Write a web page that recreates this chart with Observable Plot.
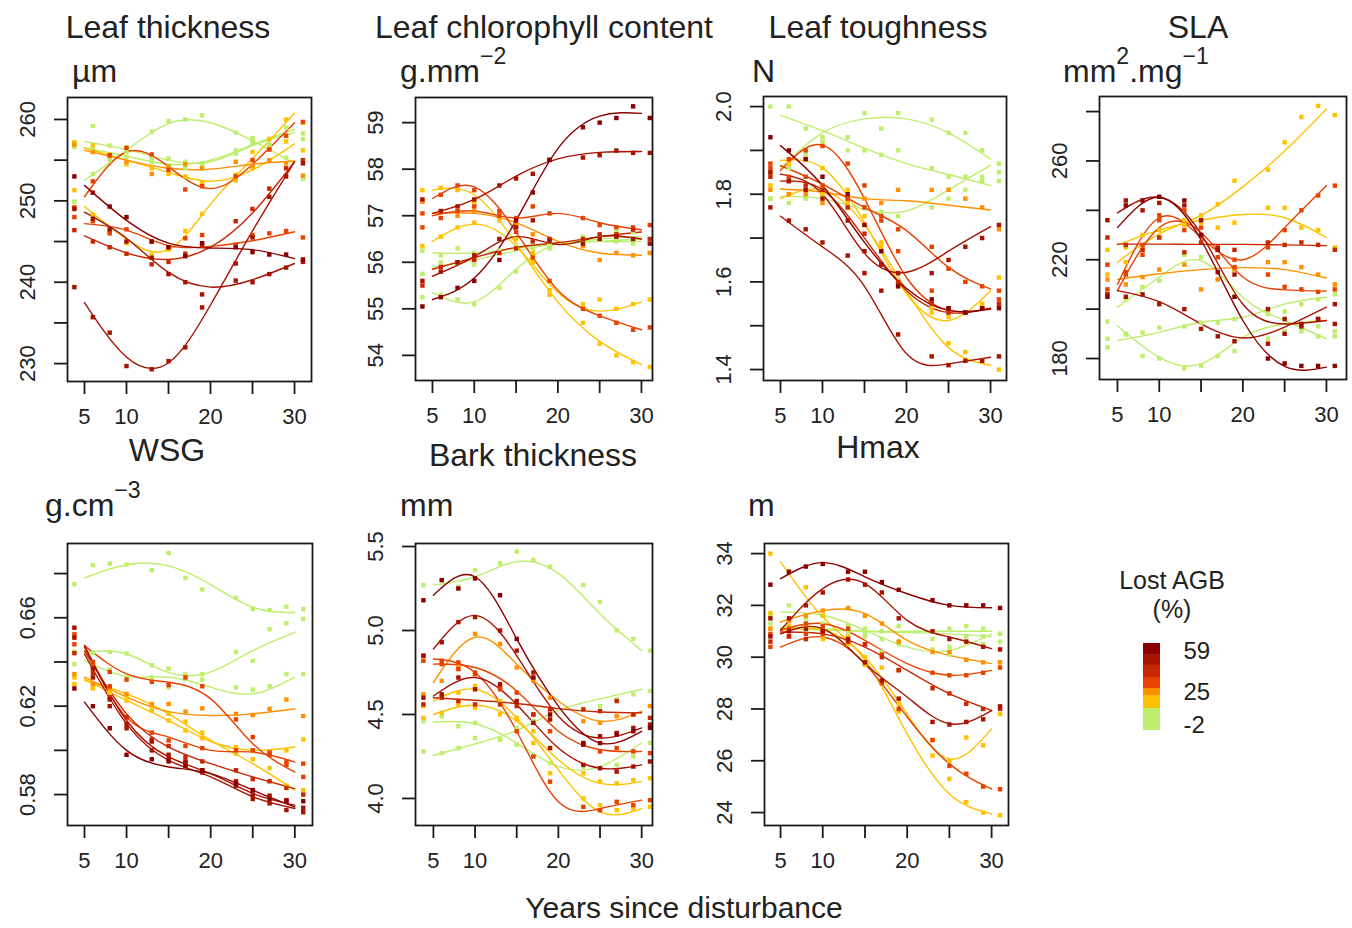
<!DOCTYPE html>
<html><head><meta charset="utf-8">
<script src="https://cdn.jsdelivr.net/npm/d3@7"></script>
<script src="https://cdn.jsdelivr.net/npm/@observablehq/plot@0.6"></script>
<style>
body{margin:0;background:#fff;}
#root{position:relative;width:1352px;height:928px;overflow:hidden;font-family:"Liberation Sans",Arial,sans-serif;color:#222;background:#fff;}
.lbl{position:absolute;font-size:32px;line-height:1;white-space:nowrap;}
.c{transform:translateX(-50%);}
.sup{font-size:0.72em;position:relative;top:-0.8em;}
.leg{position:absolute;font-size:25px;line-height:1;white-space:nowrap;transform:translateX(-50%);}
</style></head><body><div id="root">
<div class="lbl c" style="left:168px;top:11px">Leaf thickness</div>
<div class="lbl c" style="left:544px;top:11px">Leaf chlorophyll content</div>
<div class="lbl c" style="left:878px;top:11px">Leaf toughness</div>
<div class="lbl c" style="left:1198px;top:11px">SLA</div>
<div class="lbl" style="left:72px;top:55px">µm</div>
<div class="lbl" style="left:400px;top:55px">g.mm<span class="sup">−2</span></div>
<div class="lbl" style="left:752px;top:55px">N</div>
<div class="lbl" style="left:1063px;top:55px">mm<span class="sup">2</span>.mg<span class="sup">−1</span></div>
<div class="lbl c" style="left:167px;top:434px">WSG</div>
<div class="lbl c" style="left:533px;top:439px">Bark thickness</div>
<div class="lbl c" style="left:878px;top:431px">Hmax</div>
<div class="lbl" style="left:45px;top:489px">g.cm<span class="sup">−3</span></div>
<div class="lbl" style="left:400px;top:489px">mm</div>
<div class="lbl" style="left:748px;top:489px">m</div>
<div class="lbl c" style="left:684px;top:893px;font-size:30px">Years since disturbance</div>
<div class="leg" style="left:1172px;top:568px">Lost AGB</div>
<div class="leg" style="left:1172px;top:597px">(%)</div>
</div>
<script>
// ---------- shared data ----------
const fitYears = [5, 10, 15, 20, 25, 30];
const pointYears = [3.8, 6, 8, 10, 13, 15, 17, 19, 23, 25, 27, 29, 31];
const lostAGB = [-2, 0, 1, 15, 20, 25, 31, 35, 42, 50, 54, 59];
const agbBreaks = [12, 22.7, 28.5, 37.6, 47.5, 56.5];
const agbColors = ["#bdee6c", "#ffc200", "#ff9000", "#e84200", "#c82800", "#a81200", "#8b0000"];
const legendLow = [-6.1, 12, 22.7, 28.5, 37.6, 47.5, 56.5];
const legendHigh = [12, 22.7, 28.5, 37.6, 47.5, 56.5, 65.6];
const legendLabels = [59, 25, -2];
const xTicks = [5, 10, 15, 20, 25, 30];
const xLabels = [5, 10, 20, 30];

// ---------- Leaf thickness (µm) ----------
const thicknessTicks = [230, 235, 240, 245, 250, 255, 260];
const thicknessLabels = [230, 240, 250, 260];
const thicknessFit = [
  [252.5, 256.2, 259.5, 259.6, 257.4, 254.6],
  [257.3, 256.3, 255.0, 254.8, 256.8, 258.4],
  [256.5, 255.5, 254.5, 255.0, 256.9, 258.8],
  [249.3, 245.3, 244.0, 249.6, 255.2, 260.8],
  [256.5, 255.0, 253.5, 252.4, 253.8, 257.0],
  [256.2, 255.0, 254.0, 253.9, 254.5, 254.9],
  [250.5, 256.0, 254.2, 251.5, 254.5, 259.6],
  [247.2, 246.4, 244.5, 244.4, 245.1, 246.2],
  [245.7, 243.6, 242.8, 244.3, 248.5, 254.8],
  [248.6, 245.4, 241.2, 239.4, 240.3, 242.3],
  [237.5, 230.8, 230.1, 237.2, 246.3, 254.8],
  [251.9, 247.6, 244.8, 244.2, 244.0, 242.9]
];
const thicknessPts = [
  [249.9, 253.3, 255.0, 256.6, 258.5, 259.8, 260.0, 260.5, 258.4, 257.7, 256.5, 255.3, 252.7],
  [257.0, 259.2, 256.8, 256.0, 255.2, 254.2, 254.8, 254.6, 255.8, 257.2, 257.6, 258.0, 258.3],
  [256.6, 256.3, 255.6, 255.4, 254.8, 255.2, 254.0, 254.5, 256.2, 257.5, 257.0, 259.0, 257.6],
  [251.3, 248.3, 246.2, 244.8, 243.4, 244.0, 246.3, 248.4, 252.5, 256.0, 257.6, 260.0, 259.6],
  [257.2, 256.8, 255.7, 254.5, 254.0, 253.3, 253.0, 252.2, 253.2, 254.0, 256.4, 257.3, 256.2],
  [256.9, 256.0, 255.5, 254.8, 253.3, 254.2, 254.5, 254.0, 254.8, 254.3, 255.0, 254.6, 253.1],
  [249.2, 252.4, 255.6, 256.5, 255.7, 253.8, 251.4, 251.8, 253.0, 255.0, 256.3, 258.0, 259.7],
  [248.0, 247.5, 246.0, 246.5, 245.0, 244.3, 245.4, 245.8, 244.6, 245.8, 246.0, 246.3, 245.5],
  [246.4, 245.0, 244.3, 243.5, 242.2, 242.5, 243.5, 244.5, 247.5, 249.0, 251.5, 254.0, 255.0],
  [249.0, 247.8, 246.5, 245.0, 243.0, 241.0, 240.0, 238.5, 240.2, 240.0, 241.0, 241.8, 242.5],
  [239.4, 235.7, 233.8, 229.7, 229.3, 230.3, 232.0, 236.9, 242.3, 245.5, 250.5, 253.0, 254.6],
  [253.0, 251.0, 249.3, 248.0, 245.0, 244.3, 243.2, 244.8, 244.3, 243.7, 243.4, 243.4, 242.8]
];

// ---------- Leaf chlorophyll content (g.mm-2) ----------
const chlorophyllTicks = [54, 55, 56, 57, 58, 59];
const chlorophyllLabels = [54, 55, 56, 57, 58, 59];
const chlorophyllFit = [
  [56.2, 56.2, 56.3, 56.4, 56.45, 56.5],
  [55.35, 55.15, 55.85, 56.4, 56.45, 56.45],
  [55.9, 56.05, 56.25, 56.4, 56.5, 56.55],
  [57.55, 57.45, 56.4, 55.15, 54.3, 53.8],
  [56.45, 56.82, 56.35, 55.35, 54.95, 55.15],
  [57.05, 57.05, 56.85, 56.45, 56.2, 56.15],
  [57.37, 57.62, 56.65, 55.4, 54.85, 54.55],
  [57.0, 57.1, 56.95, 57.05, 56.85, 56.7],
  [55.85, 56.1, 56.32, 56.42, 56.55, 56.65],
  [55.7, 56.12, 56.55, 56.38, 56.55, 56.5],
  [57.05, 57.35, 57.85, 58.22, 58.36, 58.38],
  [55.2, 55.66, 56.9, 58.44, 59.14, 59.2]
];
const chlorophyllPts = [
  [56.25, 56.15, 56.3, 56.2, 56.25, 56.35, 56.3, 56.4, 56.45, 56.5, 56.65, 56.5, 56.5],
  [55.25, 55.3, 55.2, 55.1, 55.45, 55.8, 56.05, 56.3, 56.4, 56.5, 56.45, 56.4, 56.2],
  [55.75, 56.0, 56.0, 55.95, 56.2, 56.3, 56.45, 56.35, 56.55, 56.6, 56.5, 56.65, 56.45],
  [57.55, 57.6, 57.55, 57.3, 56.9, 56.5, 56.0, 55.3, 54.7, 54.25, 54.0, 53.85, 53.75],
  [56.35, 56.55, 56.75, 56.85, 56.5, 56.3, 56.2, 55.4, 55.1, 55.2, 55.0, 55.1, 55.2],
  [57.3, 57.1, 57.0, 57.1, 57.0, 56.8, 56.6, 56.5, 56.35, 56.05, 56.2, 56.15, 56.2],
  [56.75, 57.45, 57.65, 57.55, 57.1, 56.65, 56.1, 55.6, 55.0, 54.85, 54.7, 54.55, 54.6],
  [57.05, 56.95, 57.1, 57.2, 57.0, 56.95, 57.2, 57.05, 56.95, 56.8, 56.75, 56.75, 56.8],
  [55.5, 55.9, 56.0, 56.05, 56.2, 56.3, 56.45, 56.5, 56.5, 56.6, 56.6, 56.7, 56.5],
  [55.6, 55.8, 56.0, 56.15, 56.5, 56.75, 56.9, 56.45, 56.4, 56.5, 56.55, 56.5, 56.4],
  [57.35, 57.1, 57.2, 57.35, 57.65, 57.8, 57.9, 58.2, 58.25, 58.3, 58.4, 58.35, 58.35],
  [55.05, 55.25, 55.45, 55.6, 56.05, 56.9, 57.5, 58.2, 58.9, 59.0, 59.1, 59.35, 59.1]
];

// ---------- Leaf toughness (N) ----------
const toughnessTicks = [1.4, 1.5, 1.6, 1.7, 1.8, 1.9, 2.0];
const toughnessLabels = [1.4, 1.6, 1.8, 2.0];
const toughnessFit = [
  [1.98, 1.945, 1.905, 1.87, 1.845, 1.82],
  [1.86, 1.94, 1.972, 1.972, 1.94, 1.88],
  [1.795, 1.79, 1.765, 1.762, 1.81, 1.866],
  [1.877, 1.86, 1.735, 1.573, 1.512, 1.58],
  [1.79, 1.81, 1.73, 1.58, 1.45, 1.41],
  [1.812, 1.805, 1.79, 1.785, 1.775, 1.764],
  [1.854, 1.912, 1.79, 1.61, 1.535, 1.54],
  [1.865, 1.823, 1.77, 1.717, 1.633, 1.584],
  [1.83, 1.81, 1.70, 1.58, 1.53, 1.54],
  [1.846, 1.80, 1.665, 1.622, 1.67, 1.726],
  [1.75, 1.68, 1.59, 1.436, 1.413, 1.428],
  [1.911, 1.82, 1.69, 1.585, 1.535, 1.538]
];
const toughnessPts = [
  [2.0, 2.0, 1.95, 1.93, 1.90, 1.90, 1.89, 1.90, 1.86, 1.84, 1.84, 1.83, 1.83],
  [1.79, 1.86, 1.89, 1.92, 1.93, 1.985, 1.95, 1.985, 1.97, 1.94, 1.94, 1.90, 1.85],
  [1.79, 1.78, 1.79, 1.80, 1.77, 1.77, 1.76, 1.75, 1.77, 1.79, 1.81, 1.84, 1.87],
  [1.85, 1.87, 1.88, 1.86, 1.81, 1.75, 1.68, 1.59, 1.54, 1.52, 1.53, 1.55, 1.61],
  [1.82, 1.80, 1.81, 1.80, 1.78, 1.73, 1.69, 1.62, 1.53, 1.46, 1.44, 1.42, 1.40],
  [1.81, 1.80, 1.80, 1.78, 1.79, 1.79, 1.78, 1.81, 1.81, 1.81, 1.79, 1.77, 1.72],
  [1.87, 1.88, 1.90, 1.91, 1.87, 1.82, 1.74, 1.67, 1.58, 1.54, 1.53, 1.54, 1.56],
  [1.86, 1.84, 1.84, 1.82, 1.79, 1.77, 1.75, 1.72, 1.68, 1.63, 1.60, 1.59, 1.58],
  [1.84, 1.83, 1.82, 1.81, 1.77, 1.71, 1.64, 1.60, 1.55, 1.53, 1.53, 1.54, 1.55],
  [1.85, 1.83, 1.81, 1.79, 1.74, 1.67, 1.64, 1.62, 1.62, 1.65, 1.68, 1.70, 1.73],
  [1.77, 1.74, 1.72, 1.69, 1.66, 1.62, 1.58, 1.48, 1.43, 1.41, 1.42, 1.42, 1.43],
  [1.93, 1.90, 1.88, 1.84, 1.80, 1.73, 1.67, 1.59, 1.56, 1.54, 1.53, 1.54, 1.54]
];

// ---------- SLA (mm2.mg-1) ----------
const slaTicks = [180, 200, 220, 240, 260, 280];
const slaLabels = [180, 220, 260];
const slaFit = [
  [200.8, 213, 219.6, 204.8, 195.4, 188],
  [193.3, 180.5, 177.8, 188.6, 194, 195.4],
  [187.3, 190.6, 194.7, 196.7, 202, 204.8],
  [219, 230.5, 238, 249.5, 264, 281],
  [226, 232, 236, 238.3, 237, 229],
  [212, 214.3, 216, 216.8, 216, 212.6],
  [210, 237, 229, 220, 233, 250],
  [207.5, 233, 231, 213, 207.8, 207.3],
  [226.3, 226.3, 226.2, 226.2, 226.0, 225.7],
  [207.5, 203, 194, 188.3, 192.7, 200.8],
  [239, 245.3, 230.4, 202, 194, 195.4],
  [233, 245.3, 228, 195.4, 176.8, 176.5]
];
const slaPts = [
  [195, 204, 209, 211.5, 222, 221, 212, 205, 199, 196, 191, 189, 189],
  [184.5, 190, 181, 180, 176, 177, 181, 183, 188, 191, 192, 193, 191],
  [188, 189.7, 190.5, 192.5, 193, 194.5, 194.5, 196, 198, 199, 202, 204, 206],
  [214, 219, 224, 229, 234, 238, 242.5, 252, 256.5, 267.5, 277.8, 282.3, 278.6],
  [224, 225, 230, 232, 236, 235, 233, 235, 241, 241, 233, 232, 225],
  [212, 210, 213, 216, 218, 208, 212, 216, 219, 219, 217, 214, 210],
  [218, 215, 226, 238, 232, 233, 224, 220, 225, 232, 240, 246, 250],
  [208, 214, 222, 236, 240, 230, 221, 217, 214, 209, 208, 207, 208],
  [229, 226, 224, 229, 223, 227, 225, 224, 227, 226, 227, 226, 224],
  [206, 205, 206, 202, 200, 192, 189, 187, 186, 190, 193, 196, 202],
  [236, 244, 240, 243, 242, 236, 224, 214, 200, 196, 194, 196, 194],
  [205, 242, 244, 245.5, 244, 230, 215, 205, 180, 178, 177, 177, 177]
];

// ---------- WSG (g.cm-3) ----------
const wsgTicks = [0.58, 0.60, 0.62, 0.64, 0.66, 0.68];
const wsgLabels = [0.58, 0.62, 0.66];
const wsgFit = [
  [0.678, 0.684, 0.6835, 0.675, 0.6647, 0.6624],
  [0.6444, 0.6436, 0.6352, 0.6355, 0.6451, 0.6534],
  [0.6406, 0.6335, 0.6331, 0.6286, 0.6256, 0.6331],
  [0.6316, 0.6256, 0.6165, 0.6045, 0.594, 0.582],
  [0.6323, 0.6226, 0.6135, 0.604, 0.600, 0.6015],
  [0.6331, 0.6241, 0.6175, 0.6158, 0.6165, 0.6188],
  [0.6474, 0.6346, 0.6308, 0.6233, 0.603, 0.5902],
  [0.6466, 0.615, 0.606, 0.600, 0.5992, 0.5947],
  [0.645, 0.6165, 0.6015, 0.594, 0.588, 0.5827],
  [0.6474, 0.6135, 0.597, 0.5895, 0.5805, 0.5752],
  [0.6436, 0.612, 0.5955, 0.588, 0.579, 0.5737],
  [0.6218, 0.600, 0.5925, 0.5895, 0.582, 0.5744]
];
const wsgPts = [
  [0.6752, 0.6838, 0.6845, 0.6840, 0.6815, 0.6893, 0.6780, 0.6728, 0.6690, 0.6640, 0.6635, 0.6650, 0.6639],
  [0.6446, 0.6440, 0.6445, 0.6438, 0.6385, 0.6370, 0.6322, 0.6345, 0.6445, 0.6405, 0.6548, 0.6575, 0.6595],
  [0.6390, 0.6395, 0.6365, 0.6330, 0.6331, 0.6285, 0.6345, 0.6320, 0.6285, 0.6275, 0.6290, 0.6345, 0.6345],
  [0.6300, 0.6300, 0.6275, 0.6245, 0.6200, 0.6165, 0.6130, 0.6080, 0.5985, 0.5960, 0.5920, 0.5840, 0.5820],
  [0.6330, 0.6280, 0.6260, 0.6225, 0.6180, 0.6135, 0.6090, 0.6055, 0.6015, 0.6000, 0.5995, 0.6000, 0.6050],
  [0.6345, 0.6300, 0.6280, 0.6255, 0.6210, 0.6210, 0.6175, 0.6190, 0.6165, 0.6160, 0.6188, 0.6230, 0.6155],
  [0.6480, 0.6400, 0.6355, 0.6320, 0.6310, 0.6295, 0.6330, 0.6290, 0.6140, 0.6060, 0.5980, 0.5935, 0.5880],
  [0.6525, 0.6380, 0.6290, 0.6150, 0.6080, 0.6045, 0.6020, 0.6010, 0.6000, 0.6000, 0.5990, 0.5950, 0.5940],
  [0.6440, 0.6350, 0.6240, 0.6150, 0.6050, 0.6020, 0.5970, 0.5950, 0.5910, 0.5870, 0.5860, 0.5830, 0.5800],
  [0.6555, 0.6370, 0.6200, 0.6120, 0.6040, 0.5960, 0.5945, 0.5910, 0.5860, 0.5800, 0.5795, 0.5775, 0.5740],
  [0.6510, 0.6330, 0.6230, 0.6100, 0.6000, 0.5980, 0.5950, 0.5900, 0.5840, 0.5780, 0.5760, 0.5730, 0.5720],
  [0.6280, 0.6200, 0.6100, 0.5980, 0.5960, 0.5950, 0.5930, 0.5910, 0.5850, 0.5820, 0.5780, 0.5770, 0.5770]
];

// ---------- Bark thickness (mm) ----------
const barkTicks = [4.0, 4.5, 5.0, 5.5];
const barkLabels = [4.0, 4.5, 5.0, 5.5];
const barkFit = [
  [5.27, 5.32, 5.41, 5.34, 5.10, 4.88],
  [4.455, 4.445, 4.33, 4.19, 4.19, 4.33],
  [4.256, 4.325, 4.405, 4.524, 4.593, 4.65],
  [4.58, 4.65, 4.48, 4.17, 3.92, 3.94],
  [4.50, 4.555, 4.46, 4.23, 4.09, 4.10],
  [4.69, 4.96, 4.80, 4.58, 4.46, 4.52],
  [4.83, 4.75, 4.40, 3.98, 3.94, 3.99],
  [4.80, 4.78, 4.64, 4.40, 4.29, 4.28],
  [4.60, 4.585, 4.565, 4.535, 4.515, 4.51],
  [4.61, 4.72, 4.56, 4.30, 4.18, 4.20],
  [4.89, 5.09, 4.85, 4.49, 4.36, 4.42],
  [5.21, 5.32, 4.95, 4.55, 4.33, 4.40]
];
const barkPts = [
  [5.27, 5.30, 5.26, 5.36, 5.40, 5.47, 5.42, 5.38, 5.27, 5.17, 5.00, 4.95, 4.88],
  [4.46, 4.49, 4.43, 4.45, 4.35, 4.32, 4.25, 4.21, 4.19, 4.10, 4.20, 4.25, 4.33],
  [4.28, 4.27, 4.30, 4.36, 4.35, 4.42, 4.46, 4.48, 4.53, 4.55, 4.59, 4.62, 4.64],
  [4.55, 4.60, 4.63, 4.67, 4.58, 4.48, 4.33, 4.15, 4.00, 3.96, 3.93, 3.94, 3.95],
  [4.48, 4.51, 4.56, 4.54, 4.50, 4.47, 4.40, 4.30, 4.15, 4.10, 4.09, 4.11, 4.12],
  [4.62, 4.70, 4.78, 4.98, 4.92, 4.78, 4.70, 4.60, 4.46, 4.45, 4.49, 4.50, 4.55],
  [4.82, 4.80, 4.77, 4.75, 4.66, 4.40, 4.25, 4.10, 3.95, 3.93, 3.98, 3.96, 3.99],
  [4.85, 4.82, 4.81, 4.74, 4.65, 4.63, 4.50, 4.40, 4.32, 4.28, 4.30, 4.28, 4.27],
  [4.56, 4.60, 4.58, 4.56, 4.56, 4.55, 4.50, 4.53, 4.53, 4.52, 4.58, 4.50, 4.48],
  [4.60, 4.62, 4.72, 4.65, 4.68, 4.58, 4.45, 4.30, 4.20, 4.18, 4.16, 4.19, 4.22],
  [4.85, 4.93, 5.05, 5.08, 5.00, 4.88, 4.75, 4.47, 4.32, 4.37, 4.39, 4.42, 4.44],
  [5.18, 5.30, 5.25, 5.31, 5.21, 4.95, 4.72, 4.50, 4.33, 4.33, 4.38, 4.40, 4.42]
];

// ---------- Hmax (m) ----------
const hmaxTicks = [24, 26, 28, 30, 32, 34];
const hmaxLabels = [24, 26, 28, 30, 32, 34];
const hmaxFit = [
  [31.74, 31.62, 31.04, 30.39, 30.26, 30.9],
  [31.1, 31.05, 31.0, 31.0, 31.0, 31.0],
  [31.15, 31.1, 31.0, 30.95, 30.9, 30.8],
  [33.68, 31.55, 29.9, 27.04, 24.72, 23.95],
  [31.04, 31.05, 30.0, 27.8, 26.07, 27.23],
  [31.36, 31.8, 31.68, 30.65, 30.07, 29.75],
  [30.39, 30.78, 29.75, 27.69, 25.88, 24.91],
  [31.04, 31.3, 30.65, 29.75, 29.3, 29.49],
  [30.97, 30.9, 30.39, 29.49, 28.59, 27.94],
  [30.9, 31.1, 29.75, 28.46, 27.43, 27.94],
  [31.04, 32.65, 32.84, 31.42, 30.78, 30.33],
  [33.03, 33.65, 33.1, 32.45, 32.0, 31.91]
];
const hmaxPts = [
  [31.6, 32.0, 31.5, 31.6, 31.2, 30.9, 30.7, 30.5, 30.3, 30.1, 30.6, 30.5, 30.9],
  [31.1, 31.2, 31.0, 31.3, 31.0, 30.8, 31.0, 31.2, 31.0, 31.1, 31.2, 31.1, 30.9],
  [31.3, 31.1, 31.2, 30.9, 31.0, 31.1, 30.2, 30.6, 30.7, 30.4, 30.8, 30.8, 30.6],
  [34.0, 33.3, 32.7, 31.6, 30.8, 29.7, 29.0, 27.9, 26.2, 25.3, 24.4, 24.0, 23.9],
  [31.7, 31.2, 31.2, 30.7, 30.5, 30.0, 29.6, 28.2, 26.8, 26.0, 26.9, 26.6, 27.8],
  [31.1, 31.4, 31.6, 31.8, 31.9, 31.6, 31.3, 30.6, 30.2, 30.2, 29.9, 29.8, 29.8],
  [30.4, 30.8, 30.9, 30.9, 30.6, 29.8, 29.0, 28.0, 26.8, 25.8, 25.5, 25.0, 24.9],
  [30.9, 31.1, 31.3, 31.2, 31.1, 30.5, 30.1, 29.5, 29.4, 29.3, 29.3, 29.4, 29.6],
  [30.6, 30.8, 30.7, 31.0, 30.6, 30.5, 30.0, 29.5, 28.8, 28.6, 28.2, 28.0, 28.0],
  [30.8, 31.0, 31.1, 31.0, 30.7, 29.8, 29.1, 28.4, 27.5, 27.4, 27.5, 27.6, 28.1],
  [31.5, 31.5, 32.0, 32.5, 33.0, 32.8, 32.5, 31.5, 31.0, 30.7, 30.6, 30.4, 30.3],
  [32.8, 33.3, 33.5, 33.6, 33.3, 33.3, 32.9, 32.6, 32.2, 32.0, 32.0, 32.0, 31.9]
];

// ---------- layout ----------
const panels = [
  {fit: thicknessFit, pts: thicknessPts, ticks: thicknessTicks, labels: thicknessLabels, digits: 0,
   left: 67, top: 97, w: 244, h: 284, xDomain: [2.98, 32.02], yDomain: [227.8, 262.7]},
  {fit: chlorophyllFit, pts: chlorophyllPts, ticks: chlorophyllTicks, labels: chlorophyllLabels, digits: 0,
   left: 415, top: 97, w: 237, h: 283, xDomain: [2.97, 31.32], yDomain: [53.46, 59.54]},
  {fit: toughnessFit, pts: toughnessPts, ticks: toughnessTicks, labels: toughnessLabels, digits: 1,
   left: 763, top: 96, w: 243, h: 284, xDomain: [2.98, 31.9], yDomain: [1.375, 2.023]},
  {fit: slaFit, pts: slaPts, ticks: slaTicks, labels: slaLabels, digits: 0,
   left: 1099, top: 96, w: 247, h: 283, xDomain: [2.85, 32.4], yDomain: [171.5, 286.1]},
  {fit: wsgFit, pts: wsgPts, ticks: wsgTicks, labels: wsgLabels, digits: 2,
   left: 67, top: 543, w: 245, h: 282, xDomain: [2.98, 32.1], yDomain: [0.566, 0.6936]},
  {fit: barkFit, pts: barkPts, ticks: barkTicks, labels: barkLabels, digits: 1,
   left: 415, top: 543, w: 237, h: 282, xDomain: [2.85, 31.3], yDomain: [3.839, 5.518]},
  {fit: hmaxFit, pts: hmaxPts, ticks: hmaxTicks, labels: hmaxLabels, digits: 0,
   left: 764, top: 543, w: 244, h: 282, xDomain: [3.1, 32.0], yDomain: [23.5, 34.39]}
];

const root = document.getElementById("root");
const colorScale = {type: "threshold", domain: agbBreaks, range: agbColors};
const baseStyle = {fontFamily: "Liberation Sans, Arial, sans-serif", fontSize: "22px", color: "#222", background: "transparent", overflow: "visible"};

for (const p of panels) {
  const ml = 70, mr = 12, mt = 12, mb = 50;
  const fitRows = p.fit.flatMap((vals, s) => vals.map((v, i) => ({year: fitYears[i], value: v, series: s, agb: lostAGB[s]})));
  const ptRows = p.pts.flatMap((vals, s) => vals.map((v, i) => ({year: pointYears[i], value: v, series: s, agb: lostAGB[s]})));
  const chart = Plot.plot({
    width: ml + p.w + mr,
    height: mt + p.h + mb,
    marginLeft: ml, marginRight: mr, marginTop: mt, marginBottom: mb,
    x: {domain: p.xDomain, label: null},
    y: {domain: p.yDomain, label: null},
    color: colorScale,
    style: baseStyle,
    marks: [
      Plot.line(fitRows, {x: "year", y: "value", z: "series", stroke: "agb", curve: "natural", strokeWidth: 1.4}),
      Plot.dot(ptRows, {x: "year", y: "value", fill: "agb", symbol: "square", r: 2.5}),
      Plot.frame({stroke: "#1a1a1a", strokeWidth: 1.8}),
      Plot.axisX({ticks: xTicks, tickSize: 13, tickPadding: 14, strokeWidth: 1.8, stroke: "#1a1a1a",
        tickFormat: d => xLabels.includes(d) ? String(d) : "", label: null}),
      Plot.axisY({ticks: p.ticks, tickSize: 13, tickPadding: 20, tickRotate: -90, textAnchor: "middle", lineAnchor: "bottom",
        strokeWidth: 1.8, stroke: "#1a1a1a",
        tickFormat: d => p.labels.includes(d) ? d.toFixed(p.digits) : "", label: null})
    ]
  });
  chart.style.position = "absolute";
  chart.style.left = (p.left - ml) + "px";
  chart.style.top = (p.top - mt) + "px";
  root.appendChild(chart);
}

// ---------- legend ----------
const legendRows = legendLow.map((lo, i) => ({lo, hi: legendHigh[i], mid: (lo + legendHigh[i]) / 2}));
const legML = 2, legMR = 70, legMT = 2, legMB = 2;
const legend = Plot.plot({
  width: legML + 17 + legMR, height: legMT + 87 + legMB,
  marginLeft: legML, marginRight: legMR, marginTop: legMT, marginBottom: legMB,
  y: {domain: [legendLow[0], legendHigh[legendHigh.length - 1]], label: null},
  color: colorScale,
  style: {...baseStyle, fontSize: "24px"},
  marks: [
    Plot.barY(legendRows, {y1: "lo", y2: "hi", fill: "mid", inset: 0}),
    Plot.axisY({anchor: "right", ticks: legendLabels, tickSize: 0, tickPadding: 23, tickFormat: d => String(d), label: null})
  ]
});
legend.style.position = "absolute";
legend.style.left = (1143 - legML) + "px";
legend.style.top = (643 - legMT) + "px";
root.appendChild(legend);
</script>
</body></html>
